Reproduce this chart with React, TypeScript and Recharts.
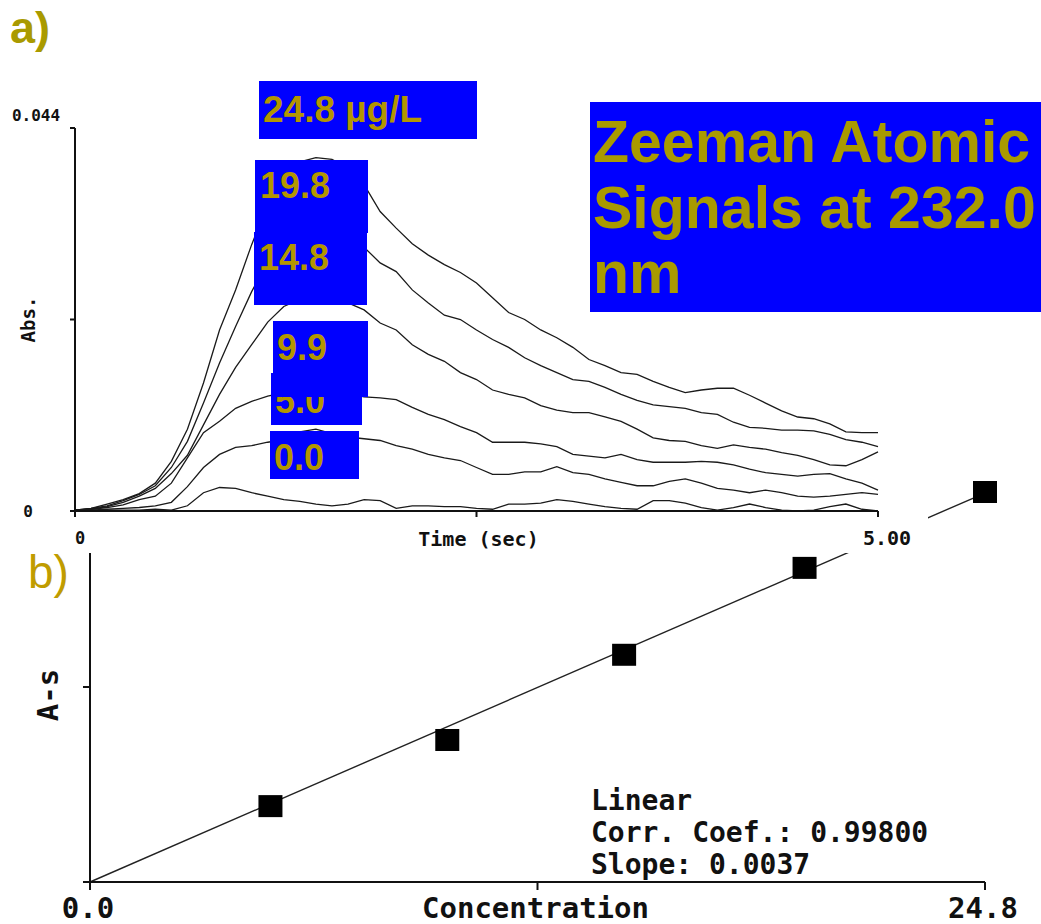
import React from "react";
import { LineChart, Line, ComposedChart, Scatter, XAxis, YAxis, Label } from "recharts";

// a) furnace absorbance traces, sampled every 0.1 s
const TIME_S = [
  0, 0.1, 0.2, 0.3, 0.4, 0.5, 0.6, 0.7, 0.8, 0.9, 1, 1.1, 1.2, 1.3, 1.4, 1.5, 1.6, 1.7, 1.8, 1.9,
  2, 2.1, 2.2, 2.3, 2.4, 2.5, 2.6, 2.7, 2.8, 2.9, 3, 3.1, 3.2, 3.3, 3.4, 3.5, 3.6, 3.7, 3.8, 3.9,
  4, 4.1, 4.2, 4.3, 4.4, 4.5, 4.6, 4.7, 4.8, 4.9, 5,
];

const ABS_24_8 = [
  0.0001, 0.0003, 0.0008, 0.0013, 0.002, 0.0032, 0.0057, 0.0094, 0.0147, 0.0208,
  0.0254, 0.0306, 0.0352, 0.0383, 0.0401, 0.0406, 0.0404, 0.0394, 0.0375, 0.0344,
  0.0325, 0.0307, 0.0294, 0.0283, 0.0274, 0.0262, 0.0245, 0.0228, 0.022, 0.0208,
  0.0199, 0.0188, 0.0174, 0.0167, 0.0159, 0.0157, 0.0149, 0.0142, 0.0136, 0.0139,
  0.0141, 0.0141, 0.0133, 0.0124, 0.0115, 0.0108, 0.0106, 0.01, 0.0091, 0.009,
  0.009,
];
const ABS_19_8 = [
  0.0001, 0.0003, 0.0006, 0.0012, 0.0019, 0.0029, 0.005, 0.008, 0.0124, 0.017,
  0.0212, 0.0252, 0.0286, 0.0303, 0.0311, 0.0315, 0.0314, 0.031, 0.0303, 0.0285,
  0.0275, 0.0254, 0.0239, 0.0225, 0.022, 0.0208, 0.0197, 0.0188, 0.0176, 0.0167,
  0.0159, 0.0151, 0.0149, 0.0142, 0.0134, 0.0127, 0.0122, 0.012, 0.0118, 0.0113,
  0.0111, 0.0102, 0.0096, 0.0095, 0.0093, 0.0093, 0.0092, 0.0088, 0.0082, 0.0079,
  0.0074,
];
const ABS_14_8 = [
  0.0001, 0.0002, 0.0005, 0.001, 0.0017, 0.0026, 0.0043, 0.0064, 0.0099, 0.0134,
  0.0165, 0.0191, 0.0217, 0.0235, 0.0243, 0.0245, 0.0245, 0.0239, 0.0231, 0.0216,
  0.0208, 0.0191, 0.018, 0.0172, 0.0159, 0.0151, 0.0139, 0.0134, 0.013, 0.0121,
  0.0116, 0.0113, 0.0113, 0.0108, 0.0103, 0.0094, 0.0084, 0.0081, 0.008, 0.0075,
  0.0072, 0.0076, 0.0073, 0.0071, 0.0067, 0.0064, 0.0059, 0.0053, 0.0052, 0.0059,
  0.0068,
];
const ABS_9_9 = [
  0.0001, 0.0002, 0.0004, 0.0007, 0.0013, 0.0017, 0.0032, 0.0061, 0.009, 0.0103,
  0.0118, 0.0126, 0.0132, 0.0136, 0.0137, 0.0138, 0.0137, 0.0135, 0.0131, 0.013,
  0.0128, 0.0119, 0.0111, 0.0105, 0.0097, 0.009, 0.0079, 0.0079, 0.0079, 0.0077,
  0.0074, 0.0065, 0.0063, 0.0061, 0.0065, 0.0059, 0.0056, 0.0056, 0.0056, 0.0057,
  0.0056, 0.0053, 0.0048, 0.0044, 0.0042, 0.004, 0.0042, 0.0043, 0.0037, 0.0032,
  0.0024,
];
const ABS_5_0 = [
  0.0001, 0.0001, 0.0002, 0.0003, 0.0004, 0.0006, 0.001, 0.0028, 0.005, 0.0065,
  0.0073, 0.0075, 0.0079, 0.0082, 0.0091, 0.0094, 0.0089, 0.0085, 0.0083, 0.0081,
  0.0075, 0.0071, 0.0065, 0.0061, 0.0058, 0.005, 0.0042, 0.0042, 0.0045, 0.0045,
  0.0051, 0.0044, 0.0042, 0.0037, 0.0033, 0.0029, 0.0029, 0.0034, 0.0037, 0.0032,
  0.0026, 0.0024, 0.0021, 0.0024, 0.0021, 0.0017, 0.0016, 0.0017, 0.0019, 0.0021,
  0.0019,
];
const ABS_0_0 = [
  0.0001, 0.0001, 0.0001, 0.0001, 0.0001, 0.0002, 0.0001, 0.0006, 0.0021, 0.0027,
  0.0026, 0.0021, 0.0017, 0.0013, 0.0011, 0.0008, 0.0006, 0.0008, 0.0013, 0.0012,
  0.0003, 0.0006, 0.0006, 0.0005, 0.0005, 0.0003, 0.0002, 0.0008, 0.0008, 0.0009,
  0.0013, 0.0011, 0.0008, 0.0005, 0.0003, 0.0002, 0.0012, 0.0012, 0.0009, 0.0004,
  0.0001, 0.0004, 0.0008, 0.0004, 0.0001, 0, 0.0001, 0.0005, 0.0008, 0.0002,
  0,
];

const TRACE_KEYS = ["s24_8", "s19_8", "s14_8", "s9_9", "s5_0", "s0_0"];
const TRACE_VALUES = [ABS_24_8, ABS_19_8, ABS_14_8, ABS_9_9, ABS_5_0, ABS_0_0];
const TRACE_LABELS = ["24.8 \u00b5g/L", "19.8", "14.8", "9.9", "5.0", "0.0"];

const TOP_X_TICKS = [0, 2.5, 5];
const TOP_X_LABELS = ["0", "", "5.00"];
const TOP_Y_TICKS = [0, 0.022, 0.044];
const TOP_Y_LABELS = ["0", "", "0.044"];

// b) calibration
const CONC = [5.0, 9.9, 14.8, 19.8, 24.8];
const AS_VALUES = [0.0179, 0.0335, 0.0536, 0.0741, 0.092];
const SLOPE = 0.0037;
const CORR_COEF = 0.998;

const BOT_X_TICKS = [0, 12.4, 24.8];
const BOT_X_LABELS = ["0.0", "", "24.8"];
const BOT_Y_TICKS = [0, 0.046, 0.092];

const traceRows = TIME_S.map((t, i) => {
  const row: Record<string, number> = { t };
  TRACE_KEYS.forEach((k, j) => (row[k] = TRACE_VALUES[j][i]));
  return row;
});
const calibRows = CONC.map((c, i) => ({ c, a: AS_VALUES[i] }));
const fitRows = [0, 24.8].map((c) => ({ c, a: SLOPE * c }));

const MONO = "'DejaVu Sans Mono', monospace";
const SANS = "'Liberation Sans', Arial, sans-serif";
const INK = "#111";
const BLUE = "#0000ff";
const GOLD = "#b39600";
const OLIVE = "#a99a00";

const axisStroke = { stroke: INK, strokeWidth: 2 };

function TopXTick(props: any) {
  const { x, payload } = props;
  const i = TOP_X_TICKS.indexOf(payload.value);
  const label = TOP_X_LABELS[i];
  if (!label) return <g />;
  return (
    <text x={x + (i === 0 ? 5 : 9)} y={538} textAnchor="middle" dominantBaseline="central"
      fontFamily={MONO} fontWeight="bold" fontSize={i === 0 ? 17 : 20} fill={INK}>
      {label}
    </text>
  );
}

function TopYTick(props: any) {
  const { y, payload } = props;
  const i = TOP_Y_TICKS.indexOf(payload.value);
  const label = TOP_Y_LABELS[i];
  if (!label) return <g />;
  const top = i === TOP_Y_TICKS.length - 1;
  return (
    <text x={top ? 36 : 28} y={top ? y - 13 : y} textAnchor="middle" dominantBaseline="central"
      fontFamily={MONO} fontWeight="bold" fontSize={16} fill={INK}>
      {label}
    </text>
  );
}

function BotXTick(props: any) {
  const { x, payload } = props;
  const i = BOT_X_TICKS.indexOf(payload.value);
  const label = BOT_X_LABELS[i];
  if (!label) return <g />;
  return (
    <text x={x - 2} y={908} textAnchor="middle" dominantBaseline="central"
      fontFamily={MONO} fontWeight="bold" fontSize={29} fill={INK}>
      {label}
    </text>
  );
}

const NoTick = () => <g />;

function SquareMark(props: any) {
  const { cx, cy } = props;
  return <rect x={cx - 12} y={cy - 11} width={24} height={22} fill="#000" />;
}

// label boxes laid over the traces, same order as TRACE_LABELS: [x, y, w, h, textX, baseline]
const BOXES: [number, number, number, number, number, number][] = [
  [259, 81, 218, 58, 263, 122],
  [255, 160, 113, 73, 260, 198],
  [254, 232, 113, 73, 259, 270],
  [273, 321, 95, 76, 277, 360],
  [271, 373, 91, 52, 275, 413],
  [270, 431, 89, 48, 274, 470],
];
// draw order: the 5.0 box sits under the 9.9 box
const BOX_DRAW_ORDER = [0, 1, 2, 4, 3, 5];

export default function App() {
  return (
    <div style={{ position: "absolute", left: 0, top: 0, width: 1041, height: 924, background: "#fff", overflow: "hidden" }}>
      {/* b) calibration curve */}
      <div style={{ position: "absolute", left: 0, top: 0 }}>
        <ComposedChart width={1041} height={924} margin={{ top: 492, right: 56, bottom: 0, left: 0 }}>
          <XAxis dataKey="c" type="number" domain={[0, 24.8]} ticks={BOT_X_TICKS} interval={0}
            height={42} tickSize={8} axisLine={axisStroke} tickLine={axisStroke} tick={<BotXTick />}>
            <Label content={(p: any) => (
              <text x={p.viewBox.x + p.viewBox.width / 2 - 2} y={908} textAnchor="middle" dominantBaseline="central"
                fontFamily={MONO} fontWeight="bold" fontSize={29} fill={INK}>Concentration</text>
            )} />
          </XAxis>
          <YAxis dataKey="a" type="number" domain={[0, 0.092]} ticks={BOT_Y_TICKS} interval={0}
            width={90} tickSize={7} axisLine={axisStroke} tickLine={axisStroke} tick={<NoTick />}>
            <Label content={(p: any) => {
              const cy = p.viewBox.y + p.viewBox.height / 2 + 8;
              return (
                <text x={48} y={cy} textAnchor="middle" dominantBaseline="central"
                  transform={`rotate(-90 48 ${cy})`}
                  fontFamily={MONO} fontWeight="bold" fontSize={29} fill={INK}>A-s</text>
              );
            }} />
          </YAxis>
          <Line data={fitRows} dataKey="a" type="linear" stroke="#222" strokeWidth={1.4}
            dot={false} activeDot={false} isAnimationActive={false} />
          <Scatter data={calibRows} dataKey="a" shape={<SquareMark />} isAnimationActive={false} />
        </ComposedChart>
      </div>

      {/* a) absorbance vs time */}
      <div style={{ position: "absolute", left: 0, top: 0, width: 928, height: 553, background: "#fff" }}>
        <LineChart width={928} height={553} data={traceRows} margin={{ top: 128, right: 50, bottom: 0, left: 0 }}>
          <XAxis dataKey="t" type="number" domain={[0, 5]} ticks={TOP_X_TICKS} interval={0}
            height={42} tickSize={6} axisLine={axisStroke} tickLine={axisStroke} tick={<TopXTick />}>
            <Label content={(p: any) => (
              <text x={p.viewBox.x + p.viewBox.width / 2 + 2} y={539} textAnchor="middle" dominantBaseline="central"
                fontFamily={MONO} fontWeight="bold" fontSize={20} fill={INK}>Time (sec)</text>
            )} />
          </XAxis>
          <YAxis type="number" domain={[0, 0.044]} ticks={TOP_Y_TICKS} interval={0} allowDataOverflow
            width={75} tickSize={5} axisLine={axisStroke} tickLine={axisStroke} tick={<TopYTick />}>
            <Label content={(p: any) => (
              <text x={28} y={p.viewBox.y + p.viewBox.height / 2} textAnchor="middle" dominantBaseline="central"
                transform={`rotate(-90 28 ${p.viewBox.y + p.viewBox.height / 2})`}
                fontFamily={MONO} fontWeight="bold" fontSize={19} fill={INK}>Abs.</text>
            )} />
          </YAxis>
          {TRACE_KEYS.map((k) => (
            <Line key={k} dataKey={k} type="linear" stroke="#1a1a1a" strokeWidth={1.3}
              dot={false} activeDot={false} isAnimationActive={false} />
          ))}
        </LineChart>
      </div>

      <svg width={1041} height={924} style={{ position: "absolute", left: 0, top: 0, pointerEvents: "none" }}>
        <text x={10} y={43} fontFamily={SANS} fontWeight="bold" fontSize={45} fill={OLIVE}>a)</text>
        <text x={28} y={588} fontFamily={SANS} fontSize={46} fill="#c09c00">b)</text>

        <rect x={590} y={102} width={451} height={210} fill={BLUE} />
        {["Zeeman Atomic", "Signals at 232.0", "nm"].map((line, i) => (
          <text key={line} x={593} y={162 + i * 65.5} fontFamily={SANS} fontWeight="bold" fontSize={59} fill={OLIVE}>
            {line}
          </text>
        ))}

        {BOX_DRAW_ORDER.map((li) => {
          const [x, y, w, h, tx, by] = BOXES[li];
          return (
            <g key={li}>
              <rect x={x} y={y} width={w} height={h} fill={BLUE} />
              <text x={tx} y={by} fontFamily={SANS} fontWeight="bold" fontSize={li === 0 ? 37 : 36} fill={GOLD}>
                {TRACE_LABELS[li]}
              </text>
            </g>
          );
        })}

        {[
          "Linear",
          `Corr. Coef.: ${CORR_COEF.toFixed(5)}`,
          `Slope: ${SLOPE.toFixed(4)}`,
        ].map((line, i) => (
          <text key={i} x={591} y={810 + i * 32} fontFamily={MONO} fontWeight="bold" fontSize={28} fill={INK}>
            {line}
          </text>
        ))}
      </svg>
    </div>
  );
}
